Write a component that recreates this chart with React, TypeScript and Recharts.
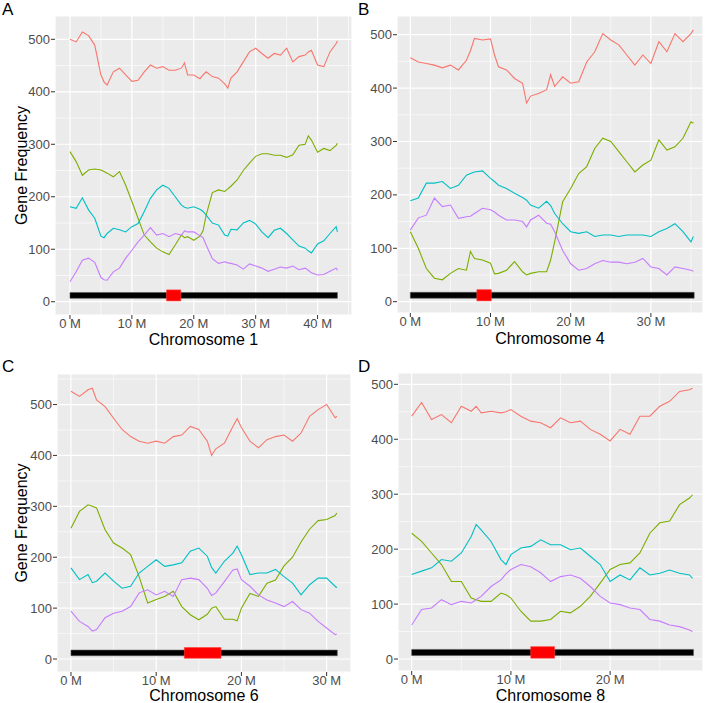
import { LineChart, Line, XAxis, YAxis, CartesianGrid, ReferenceArea, Label } from 'recharts';

const FONT = '"Liberation Sans", Arial, sans-serif';
const COLORS = ['#F8766D', '#7CAE00', '#00BFC4', '#C77CFF'];

// positions in Mb (roughly one row per Mb, a few extra where the curves turn sharply)
const chr1Pos = [0, 1, 2, 3, 4, 5, 5.5, 6, 7, 8, 9, 10, 11, 12, 13, 14, 15, 16, 17, 18, 18.5, 19, 20, 21, 21.5, 22, 23, 24, 25, 25.5, 26, 27, 28, 29, 30, 31, 32, 33, 34, 35, 36, 37, 38, 38.5, 39, 40, 41, 42, 43, 43.2];
const chr1Red = [500, 495, 514, 507, 489, 432, 419, 413, 438, 445, 432, 420, 422, 438, 451, 445, 448, 441, 441, 445, 455, 432, 432, 425, 432, 438, 429, 426, 415, 407, 426, 438, 457, 476, 483, 473, 464, 473, 470, 483, 457, 467, 470, 476, 479, 451, 448, 476, 492, 497];
const chr1Green = [286, 267, 241, 251, 253, 251, 248, 245, 238, 248, 222, 191, 159, 127, 114, 102, 95, 90, 108, 127, 122, 124, 117, 125, 135, 165, 208, 213, 210, 215, 220, 232, 250, 264, 277, 282, 282, 279, 279, 275, 280, 298, 300, 316, 308, 285, 292, 288, 298, 302];
const chr1Cyan = [181, 178, 198, 175, 159, 125, 122, 130, 140, 137, 133, 143, 149, 172, 197, 213, 222, 216, 200, 184, 180, 178, 181, 176, 172, 165, 150, 146, 127, 125, 138, 137, 150, 155, 148, 133, 122, 136, 140, 130, 118, 106, 102, 97, 93, 110, 116, 130, 143, 133];
const chr1Purple = [38, 57, 79, 83, 75, 46, 42, 41, 57, 64, 83, 98, 114, 127, 141, 127, 130, 124, 130, 127, 135, 133, 133, 126, 122, 108, 82, 73, 76, 74, 73, 70, 62, 72, 68, 64, 58, 62, 66, 64, 68, 61, 64, 60, 55, 51, 52, 58, 64, 60];

const chr4Pos = [0, 1, 2, 3, 4, 5, 6, 7, 7.5, 8, 9, 10, 10.5, 11, 12, 13, 14, 14.5, 15, 16, 17, 17.5, 18, 19, 20, 21, 22, 23, 24, 25, 26, 27, 28, 29, 30, 31, 32, 33, 34, 35, 35.3];
const chr4Red = [457, 449, 446, 443, 438, 443, 434, 452, 470, 493, 490, 492, 462, 440, 434, 418, 409, 372, 385, 390, 397, 425, 403, 421, 409, 412, 449, 468, 502, 490, 481, 462, 443, 462, 446, 487, 468, 502, 487, 502, 509];
const chr4Green = [131, 100, 62, 44, 41, 53, 62, 59, 94, 81, 78, 72, 52, 53, 59, 75, 56, 50, 53, 56, 56, 78, 112, 187, 212, 240, 253, 287, 306, 300, 281, 262, 243, 256, 265, 303, 284, 290, 306, 337, 334];
const chr4Cyan = [189, 194, 222, 222, 225, 212, 218, 237, 240, 243, 245, 231, 225, 218, 212, 203, 195, 190, 181, 175, 188, 180, 165, 146, 131, 128, 131, 122, 125, 125, 122, 125, 125, 125, 122, 131, 137, 146, 131, 112, 122];
const chr4Purple = [134, 157, 162, 194, 178, 181, 156, 159, 160, 165, 175, 172, 168, 162, 153, 153, 150, 140, 153, 162, 147, 145, 131, 96, 71, 59, 62, 71, 77, 74, 74, 71, 74, 81, 65, 62, 50, 65, 62, 59, 57];

const chr6Pos = [0, 1, 2, 2.5, 3, 4, 5, 6, 7, 8, 9, 10, 11, 12, 13, 14, 15, 16, 16.5, 17, 18, 19, 19.5, 20, 21, 22, 23, 24, 25, 26, 27, 28, 29, 30, 31, 31.2];
const chr6Red = [526, 516, 529, 532, 509, 496, 473, 451, 437, 428, 424, 428, 424, 437, 440, 457, 451, 428, 400, 413, 424, 457, 472, 455, 428, 415, 431, 437, 440, 428, 444, 477, 490, 500, 474, 477];
const chr6Green = [257, 290, 303, 300, 297, 254, 228, 218, 205, 162, 110, 117, 123, 133, 103, 87, 77, 88, 100, 103, 78, 78, 75, 100, 129, 123, 149, 155, 183, 200, 230, 255, 272, 274, 282, 287];
const chr6Cyan = [179, 156, 166, 150, 153, 169, 153, 139, 143, 169, 182, 195, 182, 185, 189, 212, 218, 202, 180, 169, 192, 208, 222, 205, 166, 169, 169, 176, 162, 149, 126, 146, 159, 159, 143, 140];
const chr6Purple = [94, 74, 64, 55, 58, 81, 90, 94, 103, 130, 136, 126, 133, 123, 156, 159, 156, 139, 125, 130, 152, 175, 177, 156, 143, 126, 116, 110, 103, 113, 97, 90, 74, 61, 48, 49];

const chr8Pos = [0, 1, 2, 3, 4, 5, 6, 6.5, 7, 8, 9, 9.5, 10, 11, 12, 13, 14, 15, 16, 17, 18, 19, 20, 21, 22, 23, 24, 25, 26, 27, 28, 28.3];
const chr8Red = [442, 467, 436, 445, 430, 460, 451, 460, 448, 451, 448, 450, 454, 442, 433, 430, 421, 439, 430, 433, 418, 409, 397, 418, 409, 442, 442, 460, 469, 487, 490, 493];
const chr8Green = [229, 214, 193, 172, 141, 141, 111, 108, 105, 105, 120, 117, 111, 87, 69, 69, 72, 87, 84, 96, 114, 138, 163, 172, 175, 193, 229, 248, 251, 281, 293, 299];
const chr8Cyan = [154, 160, 166, 181, 178, 193, 223, 245, 235, 214, 181, 172, 190, 202, 205, 217, 208, 208, 199, 202, 187, 172, 141, 153, 144, 166, 153, 156, 162, 156, 153, 147];
const chr8Purple = [62, 90, 93, 108, 99, 105, 102, 108, 114, 132, 144, 155, 163, 172, 168, 157, 141, 150, 153, 147, 132, 114, 102, 99, 93, 90, 72, 69, 62, 59, 53, 50];

const chromLengths = [43.2, 35.4, 31.25, 28.4];
const centromeres = [[15.6, 17.9], [8.3, 10.1], [13.3, 17.6], [12.0, 14.4]];
const yTicks = [0, 100, 200, 300, 400, 500];

type PanelProps = {
  title: string;
  pos: number[];
  series: number[][];
  length: number;
  cen: number[];
  xTicks: number[];
  xDomain: [number, number];
  yDomain: [number, number];
  left: number;
  top: number;
  width: number;
  height: number;
  marginTop: number;
  marginRight: number;
  yAxisWidth: number;
  xAxisHeight: number;
  titleOffset: number;
  yLabel?: boolean;
};

function Panel(p: PanelProps) {
  const rows = p.pos.map((x, i) => ({
    pos: x,
    s1: p.series[0][i],
    s2: p.series[1][i],
    s3: p.series[2][i],
    s4: p.series[3][i],
  }));
  // ggplot-style minor grid halfway between the major breaks
  const xMinor = p.xTicks.map((t) => t + 5).filter((v) => v < p.xDomain[1]);
  const yMinor = [50, 150, 250, 350, 450, 550].filter((v) => v < p.yDomain[1]);

  return (
    <div style={{ position: 'absolute', left: p.left, top: p.top }}>
      <LineChart
        width={p.width}
        height={p.height}
        data={rows}
        margin={{ top: p.marginTop, right: p.marginRight, bottom: 0, left: 0 }}
      >
        <CartesianGrid stroke="#FFFFFF" strokeWidth={1.2} fill="#EBEBEB" fillOpacity={1} />
        <CartesianGrid
          stroke="#FFFFFF"
          strokeWidth={0.6}
          horizontalValues={yMinor}
          verticalValues={xMinor}
        />
        <XAxis
          dataKey="pos"
          type="number"
          domain={p.xDomain}
          allowDataOverflow
          ticks={p.xTicks}
          tickFormatter={(v) => `${v} M`}
          axisLine={false}
          tickLine={{ stroke: '#333333' }}
          tickSize={4}
          tickMargin={0}
          height={p.xAxisHeight}
          tick={{ fontSize: 13, fill: '#4D4D4D', fontFamily: FONT }}
        >
          <Label
            value={p.title}
            position="insideBottom"
            offset={p.titleOffset}
            style={{ fontSize: 16, fill: '#000000', fontFamily: FONT }}
          />
        </XAxis>
        <YAxis
          type="number"
          domain={p.yDomain}
          allowDataOverflow
          ticks={yTicks}
          axisLine={false}
          tickLine={{ stroke: '#333333' }}
          tickSize={4}
          tickMargin={1}
          width={p.yAxisWidth}
          tick={{ fontSize: 13, fill: '#4D4D4D', fontFamily: FONT }}
        >
          {p.yLabel && (
            <Label
              value="Gene Frequency"
              angle={-90}
              position="insideLeft"
              offset={21}
              style={{ fontSize: 16, fill: '#000000', fontFamily: FONT, textAnchor: 'middle' }}
            />
          )}
        </YAxis>
        <ReferenceArea x1={0} x2={p.length} y1={6.5} y2={17.5} fill="#000000" fillOpacity={1} stroke="#555555" strokeWidth={0.6} />
        <ReferenceArea x1={p.cen[0]} x2={p.cen[1]} y1={1.5} y2={22.5} fill="#FF0000" fillOpacity={1} stroke="#FF4040" strokeWidth={0.6} />
        {['s1', 's2', 's3', 's4'].map((k, i) => (
          <Line
            key={k}
            dataKey={k}
            type="linear"
            stroke={COLORS[i]}
            strokeWidth={1.1}
            dot={false}
            activeDot={false}
            isAnimationActive={false}
          />
        ))}
      </LineChart>
    </div>
  );
}

export default function App() {
  return (
    <div
      style={{
        position: 'absolute',
        left: 0,
        top: 0,
        width: 709,
        height: 703,
        overflow: 'hidden',
        background: '#FFFFFF',
        fontFamily: FONT,
      }}
    >
      <Panel
        title="Chromosome 1"
        pos={chr1Pos}
        series={[chr1Red, chr1Green, chr1Cyan, chr1Purple]}
        length={chromLengths[0]}
        cen={centromeres[0]}
        xTicks={[0, 10, 20, 30, 40]}
        xDomain={[-2.42, 45.56]}
        yDomain={[-25.3, 544.4]}
        left={0}
        top={0}
        width={360}
        height={350}
        marginTop={16}
        marginRight={8}
        yAxisWidth={55}
        xAxisHeight={35}
        titleOffset={5}
        yLabel
      />
      <Panel
        title="Chromosome 4"
        pos={chr4Pos}
        series={[chr4Red, chr4Green, chr4Cyan, chr4Purple]}
        length={chromLengths[1]}
        cen={centromeres[1]}
        xTicks={[0, 10, 20, 30]}
        xDomain={[-1.66, 36.5]}
        yDomain={[-21.2, 535]}
        left={355}
        top={0}
        width={354}
        height={350}
        marginTop={16}
        marginRight={6}
        yAxisWidth={42}
        xAxisHeight={37}
        titleOffset={6}
      />
      <Panel
        title="Chromosome 6"
        pos={chr6Pos}
        series={[chr6Red, chr6Green, chr6Cyan, chr6Purple]}
        length={chromLengths[2]}
        cen={centromeres[2]}
        xTicks={[0, 10, 20, 30]}
        xDomain={[-1.64, 32.86]}
        yDomain={[-25.5, 560]}
        left={0}
        top={355}
        width={356}
        height={348}
        marginTop={19}
        marginRight={5}
        yAxisWidth={57}
        xAxisHeight={31}
        titleOffset={2}
        yLabel
      />
      <Panel
        title="Chromosome 8"
        pos={chr8Pos}
        series={[chr8Red, chr8Green, chr8Cyan, chr8Purple]}
        length={chromLengths[3]}
        cen={centromeres[3]}
        xTicks={[0, 10, 20]}
        xDomain={[-1.38, 29.36]}
        yDomain={[-21.8, 520.6]}
        left={355}
        top={355}
        width={354}
        height={348}
        marginTop={18}
        marginRight={6}
        yAxisWidth={43}
        xAxisHeight={32}
        titleOffset={2}
      />
      <svg width={709} height={703} style={{ position: 'absolute', left: 0, top: 0, pointerEvents: 'none' }}>
        <text x={2} y={15} fontSize={17} fontFamily={FONT} fill="#000000">A</text>
        <text x={358} y={15} fontSize={17} fontFamily={FONT} fill="#000000">B</text>
        <text x={2} y={372} fontSize={17} fontFamily={FONT} fill="#000000">C</text>
        <text x={358} y={372} fontSize={17} fontFamily={FONT} fill="#000000">D</text>
      </svg>
    </div>
  );
}
